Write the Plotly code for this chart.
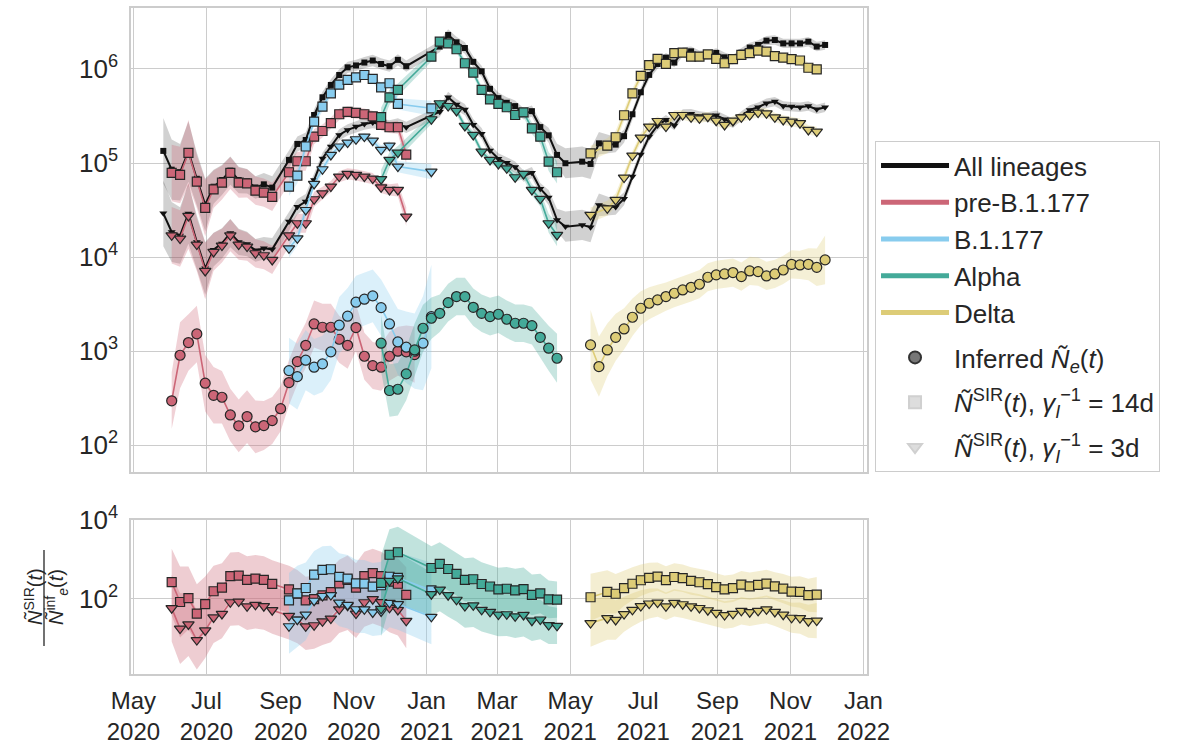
import pandas as pd
import plotly.graph_objects as go

# ---------------------------------------------------------------------------
# Weekly estimates. Each series starts at its own week; None = week not estimated.
# Band lists are log10 half-widths of the shaded intervals.
# ---------------------------------------------------------------------------

ROSE, CYAN, TEAL, SAND = "#CC6677", "#88CCEE", "#44AA99", "#DDCC77"

# All lineages (SIR-based effective size only)
all_start = "2020-05-26"
all_sir14 = [134600, 85000, 80000, 132000, 68000, 36000, 56000, 66000, 83000, 66000,
             64000, 55000, 59400, 54800, None, 108000, 159600, 175900, 324000, 500000,
             676000, 863000, 1040000, 1090000, 1170000, 1230000, 1130000, 1070000, 1250000, 1070000,
             None, None, None, 1730000, 2300000, 1920000, 1670000, 1190000, 945000, 615000,
             490000, 437000, 403000, 333000, 356000, 241000, 197000, 122000, 99500, None,
             103500, 97800, 162000, None, 157000, 193000, 330000, 565000, 865000, 1130000,
             1320000, 1170000, 1520000, 1540000, 1400000, 1400000, 1480000, 1330000, 1250000, 1490000,
             1690000, 1800000, 2000000, 2030000, 1870000, 1870000, 1870000, 1950000, 1730000, 1800000]
all_sir3 = [29200, 18500, 17000, 29000, 14500, 7600, 12000, 14000, 18000, 14500,
            13800, 11800, 12400, 12100, None, 23900, 34400, 38900, 66100, 112000,
            150000, 199000, 225000, 244000, 260000, 269000, 260000, 248000, 260000, 240000,
            None, None, None, 352000, 500000, 418000, 370000, 256000, 205000, 136000,
            111000, 100500, 90500, 72700, 78900, 53400, 42900, 24800, 21100, None,
            22000, 20800, 35900, None, 34000, 41700, 72000, 123500, 191000, 251000,
            288000, 251000, 333000, 334000, 316000, 309000, 322000, 292000, 265000, 316000,
            367000, 392000, 432000, 450000, 404000, 398000, 392000, 404000, 372000, 392000]
all_band = [0.35, 0.32, 0.30, 0.32, 0.28, 0.28, 0.18, 0.16, 0.15, 0.14,
            0.13, 0.12, 0.12, 0.12, None, 0.10, 0.08, 0.08, 0.06, 0.06,
            0.06, 0.06, 0.06, 0.06, 0.06, 0.06, 0.06, 0.06, 0.06, 0.06,
            None, None, None, 0.06, 0.06, 0.06, 0.06, 0.06, 0.06, 0.06,
            0.06, 0.06, 0.06, 0.06, 0.06, 0.06, 0.08, 0.12, 0.16, None,
            0.16, 0.16, 0.12, None, 0.08, 0.07, 0.05, 0.05, 0.05, 0.05,
            0.05, 0.05, 0.05, 0.05, 0.05, 0.05, 0.05, 0.05, 0.05, 0.05,
            0.05, 0.05, 0.05, 0.05, 0.05, 0.05, 0.05, 0.05, 0.05, 0.05]

# pre-B.1.177
pre_start = "2020-06-02"
pre_ne = [297, 906, 1235, 1527, 457, 340, 324, 210, 161, 202,
          157, 162, 183, 245, 464, 776, 1156, 1950, 1798, 1798,
          1340, 1156, 1783, 884, 703, 676, 884, 1000, 985, 920]
pre_sir14 = [78500, 74800, 128000, 63500, 33300, 52600, 61900, 78500, 61900, 60900,
             50900, 48500, 43600, None, 79800, 104500, 104500, 191000, 219000, 265000,
             330000, 349000, 341000, 330000, 314000, 254000, 240000, 240000, 123000]
pre_sir3 = [17060, 15740, 27400, 13580, 7130, 11360, 13270, 17060, 13580, 12940,
            10990, 10470, 9340, None, 17060, 22900, 22900, 41200, 47700, 56200,
            71800, 76600, 74800, 71800, 68400, 55200, 51800, 51800, 27000]
pre_ne_band = [0.30, 0.35, 0.30, 0.30, 0.30, 0.30, 0.28, 0.28, 0.28, 0.28,
               0.28, 0.26, 0.25, 0.24, 0.24, 0.24, 0.24, 0.25, 0.25, 0.25,
               0.25, 0.25, 0.25, 0.25, 0.25, 0.25, 0.26, 0.26, 0.28, 0.30]
pre_sir_band = [0.30, 0.30, 0.35, 0.28, 0.30, 0.20, 0.18, 0.17, 0.16, 0.15,
                0.15, 0.15, 0.15, None, 0.12, 0.10, 0.10, 0.08, 0.07, 0.06,
                0.06, 0.06, 0.06, 0.06, 0.06, 0.06, 0.06, 0.07, 0.10]
pre_ratio_band = [0.85, 0.90, 0.80, 0.75, 0.70, 0.65, 0.62, 0.60, 0.60, 0.60,
                  0.60, 0.60, 0.60, None, 0.60, 0.60, 0.60, 0.60, 0.60, 0.60,
                  0.60, 0.62, 0.62, 0.62, 0.62, 0.62, 0.62, 0.65, 0.70]

# B.1.177
b177_start = "2020-09-08"
b177_ne = [622, 537, 802, 676, 733, 984, 1890, 2355, 3320, 3570,
           3870, 2905, 1950, 1255, 1103, 1000, 1216, 2333]
b177_sir14 = [56200, 73500, 150000, 276000, 398000, 551000, 682000, 764000, 815000, 863000,
              783000, 638000, 705000, 425000, None, None, None, 382000]
b177_sir3 = [12400, 15850, 31700, 60000, 85900, 122000, 150000, 165000, 179000, 191000,
             173000, 138000, 153000, 91600, None, None, None, 81000]
b177_ne_band = [0.35, 0.35, 0.32, 0.30, 0.30, 0.30, 0.30, 0.30, 0.28, 0.28,
                0.28, 0.30, 0.32, 0.35, 0.38, 0.40, 0.50, 0.55]
b177_sir_band = [0.10, 0.08, 0.06, 0.05, 0.05, 0.04, 0.04, 0.04, 0.04, 0.04,
                 0.04, 0.05, 0.05, 0.06, None, None, None, 0.08]
b177_ratio_band = [0.70, 0.70, 0.65, 0.60, 0.60, 0.60, 0.60, 0.60, 0.60, 0.60,
                   0.60, 0.60, 0.62, 0.65, None, None, None, 0.70]

# Alpha
alpha_start = "2020-11-24"
alpha_ne = [1216, 382, 394, 574, 1032, 1754, 2240, 2530, 3285, 3810,
            3810, 2930, 2530, 2333, 2470, 2187, 1983, 1983, 1872, 1406,
            1076, 842]
alpha_sir14 = [307000, 500000, 598000, None, None, None, 1350000, 1950000, 1870000, 1620000,
               1150000, 915000, 598000, 476000, 425000, 392000, 324000, 346000, 234000, 191000,
               103500, 79800]
alpha_sir3 = [67300, 108000, 129000, None, None, None, 292000, 432000, 404000, 358000,
              248000, 199000, 132000, 108000, 97700, 87900, 70600, 76600, 51800, 41600,
              22900, 17200]
alpha_ne_band = [0.30, 0.28, 0.28, 0.28, 0.28, 0.25, 0.22, 0.20, 0.20, 0.20,
                 0.20, 0.20, 0.20, 0.20, 0.20, 0.20, 0.20, 0.20, 0.20, 0.22,
                 0.24, 0.26]
alpha_sir_band = [0.10, 0.08, 0.07, None, None, None, 0.05, 0.04, 0.04, 0.04,
                  0.04, 0.04, 0.04, 0.04, 0.04, 0.04, 0.05, 0.05, 0.06, 0.08,
                  0.10, 0.12]
alpha_ratio_band = [0.70, 0.65, 0.65, None, None, None, 0.55, 0.55, 0.55, 0.55,
                    0.55, 0.55, 0.55, 0.55, 0.55, 0.55, 0.55, 0.55, 0.52, 0.50,
                    0.48, 0.46]

# Delta
delta_start = "2021-05-18"
delta_ne = [1167, 687, 1032, 1406, 1725, 2295, 2862, 3235, 3510, 3810,
            4130, 4480, 4780, 5150, 6110, 6470, 6630, 6850, 6210, 7130,
            7010, 6310, 6630, 7300, 8390, 8260, 8390, 7800, 9340]
delta_sir14 = [127000, None, 153000, 188000, 322000, 551000, 843000, 1100000, 1280000, 1130000,
               1470000, 1490000, 1350000, 1350000, 1430000, 1280000, 1150000, 1270000, 1410000, 1470000,
               1570000, 1530000, 1370000, 1320000, 1270000, 1230000, 1030000, 991000, None]
delta_sir3 = [28100, None, 33000, 40500, 70000, 120000, 186000, 244000, 280000, 244000,
              324000, 324000, 306000, 299000, 311000, 282000, 254000, 282000, 306000, 324000,
              344000, 338000, 306000, 287000, 275000, 265000, 225000, 216000, None]
delta_ne_band = [0.37, 0.32, 0.28, 0.25, 0.22, 0.20, 0.18, 0.17, 0.16, 0.15,
                 0.15, 0.15, 0.15, 0.15, 0.15, 0.15, 0.15, 0.15, 0.15, 0.15,
                 0.15, 0.15, 0.15, 0.15, 0.15, 0.15, 0.17, 0.20, 0.26]
delta_sir_band = [0.08, None, 0.08, 0.07, 0.06, 0.05, 0.05, 0.05, 0.05, 0.05,
                  0.05, 0.05, 0.05, 0.05, 0.05, 0.05, 0.05, 0.05, 0.05, 0.05,
                  0.05, 0.05, 0.05, 0.05, 0.05, 0.05, 0.05, 0.05, None]
delta_ratio_band = [0.60, None, 0.55, 0.50, 0.45, 0.42, 0.40, 0.38, 0.36, 0.35,
                    0.35, 0.35, 0.35, 0.35, 0.35, 0.35, 0.35, 0.35, 0.35, 0.35,
                    0.35, 0.35, 0.36, 0.37, 0.38, 0.40, 0.42, 0.45, None]

month_ticks = ["2020-05-01", "2020-07-01", "2020-09-01", "2020-11-01", "2021-01-01", "2021-03-01",
               "2021-05-01", "2021-07-01", "2021-09-01", "2021-11-01", "2022-01-01"]
month_labels = ["May<br>2020", "Jul<br>2020", "Sep<br>2020", "Nov<br>2020", "Jan<br>2021",
                "Mar<br>2021", "May<br>2021", "Jul<br>2021", "Sep<br>2021", "Nov<br>2021",
                "Jan<br>2022"]

FONT = "Liberation Sans, Arial, sans-serif"
EDGE = "#262626"
GRID = "#cccccc"


def weekly(start, n):
    return list(pd.date_range(start, periods=n, freq="7D"))


def rgba(hexcol, a):
    h = hexcol.lstrip("#")
    return "rgba(%d,%d,%d,%.3f)" % (int(h[0:2], 16), int(h[2:4], 16), int(h[4:6], 16), a)


def ratio(sir, ne):
    return [s / n if (s is not None and n is not None) else None for s, n in zip(sir, ne)]


fig = go.Figure()


def add_band(start, vals, half, fill, panel):
    dates = weekly(start, len(vals))
    pts = [(d, v, h) for d, v, h in zip(dates, vals, half) if v is not None and h is not None]
    xs = [p[0] for p in pts]
    hi = [p[1] * 10 ** p[2] for p in pts]
    lo = [p[1] / 10 ** p[2] for p in pts]
    fig.add_trace(go.Scatter(
        x=xs + xs[::-1], y=hi + lo[::-1], fill="toself", fillcolor=fill,
        mode="lines", line=dict(width=0), hoverinfo="skip", showlegend=False,
        xaxis="x" if panel == 1 else "x2", yaxis="y" if panel == 1 else "y2"))


def add_series(start, vals, color, symbol, size, panel, lw=1.6, edge=EDGE, ew=1.2):
    fig.add_trace(go.Scatter(
        x=weekly(start, len(vals)), y=vals, mode="lines+markers", connectgaps=True,
        line=dict(color=color, width=lw),
        marker=dict(symbol=symbol, size=size, color=color, line=dict(color=edge, width=ew)),
        showlegend=False,
        xaxis="x" if panel == 1 else "x2", yaxis="y" if panel == 1 else "y2"))


lineages = [
    (pre_start, pre_ne, pre_sir14, pre_sir3, pre_ne_band, pre_sir_band, pre_ratio_band, ROSE),
    (b177_start, b177_ne, b177_sir14, b177_sir3, b177_ne_band, b177_sir_band, b177_ratio_band, CYAN),
    (alpha_start, alpha_ne, alpha_sir14, alpha_sir3, alpha_ne_band, alpha_sir_band, alpha_ratio_band, TEAL),
    (delta_start, delta_ne, delta_sir14, delta_sir3, delta_ne_band, delta_sir_band, delta_ratio_band, SAND),
]

# --- shaded intervals -------------------------------------------------------
add_band(all_start, all_sir14, all_band, "rgba(0,0,0,0.18)", 1)
add_band(all_start, all_sir3, all_band, "rgba(0,0,0,0.18)", 1)
for start, ne, s14, s3, neb, sb, rb, col in lineages:
    add_band(start, ne, neb, rgba(col, 0.30), 1)
    add_band(start, s14, sb, rgba(col, 0.30), 1)
    add_band(start, s3, sb, rgba(col, 0.30), 1)
    add_band(start, ratio(s14, ne), rb, rgba(col, 0.33), 2)
    add_band(start, ratio(s3, ne), rb, rgba(col, 0.33), 2)

# --- lines and markers ------------------------------------------------------
add_series(all_start, all_sir14, "#111111", "square", 6, 1, lw=2.0, edge="#111111", ew=0)
add_series(all_start, all_sir3, "#111111", "triangle-down", 7, 1, lw=2.0, edge="#111111", ew=0)
for start, ne, s14, s3, neb, sb, rb, col in lineages:
    add_series(start, ne, col, "circle", 10, 1)
    add_series(start, s14, col, "square", 9, 1)
    add_series(start, s3, col, "triangle-down", 10, 1)
    add_series(start, ratio(s14, ne), col, "square", 9, 2)
    add_series(start, ratio(s3, ne), col, "triangle-down", 10, 2)

# --- legend keys ------------------------------------------------------------
legend_lines = [("All lineages", "#111111"), ("pre-B.1.177", ROSE), ("B.1.177", CYAN),
                ("Alpha", TEAL), ("Delta", SAND)]
for name, col in legend_lines:
    fig.add_trace(go.Scatter(x=[None], y=[None], mode="lines", name=name,
                             line=dict(color=col, width=2.0), legendgroup="lines"))
legend_marks = [
    ("Inferred <i>Ñ</i><sub><i>e</i></sub>(<i>t</i>)", "circle", "#777777", "#333333"),
    ("<i>Ñ</i><sup>SIR</sup>(<i>t</i>), <i>γ</i><sub><i>I</i></sub><sup>−1</sup> = 14d", "square", "#dddddd", "#d0d0d0"),
    ("<i>Ñ</i><sup>SIR</sup>(<i>t</i>), <i>γ</i><sub><i>I</i></sub><sup>−1</sup> = 3d", "triangle-down", "#dddddd", "#d0d0d0"),
]
for j, (name, sym, fc, ec) in enumerate(legend_marks):
    fig.add_trace(go.Scatter(x=[None], y=[None], mode="markers", name=name,
                             marker=dict(symbol=sym, size=9, color=fc, line=dict(color=ec, width=1)),
                             legendgroup="m%d" % j))

axis_common = dict(showgrid=True, gridcolor=GRID, gridwidth=1, showline=True, mirror=True,
                   linecolor=GRID, linewidth=1.5, zeroline=False, ticks="", automargin=False)
x_range = ["2020-04-29", "2022-01-04"]

fig.update_layout(
    width=1185, height=744,
    margin=dict(l=131, r=318, t=8, b=70, autoexpand=False),
    paper_bgcolor="white", plot_bgcolor="white",
    font=dict(family=FONT, size=24, color="#262626"),
    xaxis=dict(domain=[0, 1], anchor="y", range=x_range, type="date",
               tickvals=month_ticks, ticktext=month_labels, showticklabels=False, **axis_common),
    yaxis=dict(domain=[0.3033, 1], anchor="x", type="log", range=[1.716, 6.648],
               tickvals=[1e2, 1e3, 1e4, 1e5, 1e6],
               ticktext=["10<sup>2</sup>", "10<sup>3</sup>", "10<sup>4</sup>",
                         "10<sup>5</sup>", "10<sup>6</sup>"],
               tickfont=dict(size=26), ticklabelstandoff=6, **axis_common),
    xaxis2=dict(domain=[0, 1], anchor="y2", range=x_range, type="date", matches="x",
                tickvals=month_ticks, ticktext=month_labels, tickfont=dict(size=24),
                ticklabelstandoff=4, **axis_common),
    yaxis2=dict(domain=[0, 0.2312], anchor="x2", type="log", range=[0.086, 4.0],
                tickvals=[1e2, 1e4], ticktext=["10<sup>2</sup>", "10<sup>4</sup>"],
                tickfont=dict(size=26), ticklabelstandoff=6, **axis_common),
    legend=dict(x=1.0109, y=0.8003, xanchor="left", yanchor="top",
                bgcolor="white", bordercolor=GRID, borderwidth=1,
                font=dict(family=FONT, size=26, color="#262626"),
                traceorder="grouped", tracegroupgap=8, itemsizing="constant", itemwidth=68),
)

# stacked-fraction label for the ratio panel
fig.add_annotation(text="<i>Ñ</i><sup>SIR</sup>(<i>t</i>)", xref="paper", yref="paper",
                   x=(33 - 131) / 736, y=(674 - 597) / 666, textangle=-90, showarrow=False,
                   font=dict(family=FONT, size=20, color="#262626"), xanchor="center", yanchor="middle")
fig.add_annotation(text="<i>Ñ</i><sup>inf</sup><sub><i>e</i></sub>(<i>t</i>)", xref="paper", yref="paper",
                   x=(56 - 131) / 736, y=(674 - 597) / 666, textangle=-90, showarrow=False,
                   font=dict(family=FONT, size=20, color="#262626"), xanchor="center", yanchor="middle")
fig.add_shape(type="line", xref="paper", yref="paper", x0=(44 - 131) / 736, x1=(44 - 131) / 736,
              y0=(674 - 646) / 666, y1=(674 - 550) / 666, line=dict(color="#262626", width=1.3))

fig.write_html("out.html")
